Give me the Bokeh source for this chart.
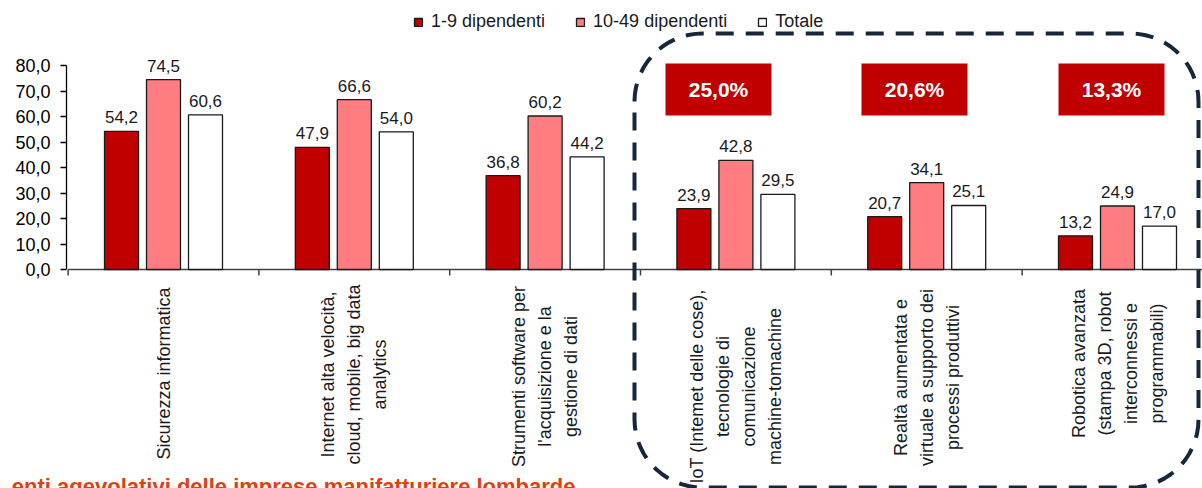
import numpy as np
from bokeh.plotting import figure
from bokeh.models import Range1d, FixedTicker, ColumnDataSource, Legend, LegendItem, Label, LinearAxis
from bokeh.core.properties import value
from bokeh.embed import file_html
from bokeh.resources import INLINE

# ---------------- data ----------------
categories = [
    "Sicurezza informatica",
    "Internet alta velocità,\ncloud, mobile, big data\nanalytics",
    "Strumenti software per\nl'acquisizione e la\ngestione di dati",
    "IoT (Intemet delle cose),\ntecnologie di\ncomunicazione\nmachine-tomachine",
    "Realtà aumentata e\nvirtuale a supporto dei\nprocessi produttivi",
    "Robotica avanzata\n(stampa 3D, robot\ninterconnessi e\nprogrammabili)",
]
series_names = ["1-9 dipendenti", "10-49 dipendenti", "Totale"]
small_firms = [54.2, 47.9, 36.8, 23.9, 20.7, 13.2]
medium_firms = [74.5, 66.6, 60.2, 42.8, 34.1, 24.9]
total = [60.6, 54.0, 44.2, 29.5, 25.1, 17.0]
y_ticks = [0, 10, 20, 30, 40, 50, 60, 70, 80]
y_tick_labels = ["0,0", "10,0", "20,0", "30,0", "40,0", "50,0", "60,0", "70,0", "80,0"]
highlight_labels = ["25,0%", "20,6%", "13,3%"]
footer_text = "enti agevolativi delle imprese manifatturiere lombarde"

# ---------------- layout constants (pixels in the page) ----------------
X0, SX = 67.6, 190.8      # x of the first category boundary, px per category
Y0, SY = 269.0, 2.55      # y of value 0, px per unit
W, H = 1202, 488
FL, FR, FT, FB = 0, W, 0, H   # frame edges in page pixels
AXIS_X = 66                   # where the y axis line sits

def dx(X):
    return (X - X0) / SX

def dy(Y):
    return (Y0 - Y) / SY

FONT_NAME = "Liberation Sans"
FONT = value(FONT_NAME)
DARK = "#1a1a1a"
RED, PINK, WHITE = "#C00000", "#FF7C80", "#FFFFFF"

p = figure(width=W, height=H, output_backend="svg", toolbar_location=None,
           x_range=Range1d(dx(FL), dx(FR)), y_range=Range1d(dy(FB), dy(FT)),
           x_axis_location=None, y_axis_location=None, min_border_left=0,
           min_border_right=0, min_border_top=0, min_border_bottom=0)
p.outline_line_color = None
p.xgrid.visible = False
p.ygrid.visible = False
p.background_fill_color = "white"
p.border_fill_color = "white"

# y axis, drawn at a fixed location inside the frame
ya = LinearAxis(fixed_location=dx(AXIS_X))
ya.ticker = FixedTicker(ticks=y_ticks)
ya.major_label_overrides = {t: l for t, l in zip(y_ticks, y_tick_labels)}
ya.bounds = (0, 80)
ya.minor_tick_line_color = None
ya.major_tick_out = 6
ya.major_tick_in = 0
ya.major_label_standoff = 10
ya.major_label_text_font = FONT_NAME
ya.major_label_text_font_size = "18px"
ya.major_label_text_color = "black"
ya.axis_line_color = "black"
ya.axis_line_width = 1.3
ya.major_tick_line_color = "black"
ya.major_tick_line_width = 1.3
p.add_layout(ya, "left")

n = len(categories)
centers = np.arange(n) + 0.5

# x axis line and boundary ticks
p.segment(x0=[0], y0=[0], x1=[dx(FR + 20)], y1=[0], line_color="#404040", line_width=1.5)
bounds_x = np.arange(n + 1)
p.segment(x0=bounds_x, y0=np.zeros(n + 1), x1=bounds_x, y1=np.full(n + 1, -6 / SY),
          line_color="#404040", line_width=1.5)

# bars
bw = 34 / SX
offsets = [-42 / SX, 0.0, 42 / SX]
colors = [RED, PINK, WHITE]
renderers = []
for vals, off, col in zip([small_firms, medium_firms, total], offsets, colors):
    src = ColumnDataSource(dict(x=centers + off, top=vals,
                                ly=[v + 14 / SY for v in vals],
                                lab=[f"{v:.1f}".replace(".", ",") for v in vals]))
    r = p.vbar(x="x", top="top", bottom=0, width=bw, source=src,
               fill_color=col, line_color=DARK, line_width=1.3)
    renderers.append(r)
    p.text(x="x", y="ly", text="lab", source=src,
           text_align="center", text_baseline="alphabetic",
           text_font=FONT, text_font_size="17px", text_color=DARK)

# category labels (rotated, centered lines)
label_center_y = [373, 374, 376, 386, 377, 363]
p.text(x=centers, y=[dy(Y) for Y in label_center_y], text=categories, angle=np.pi / 2,
       text_align="center", text_baseline="middle", text_line_height=1.3,
       text_font=FONT, text_font_size="18px", text_color=DARK)

# dashed rounded box around the last three categories
L, R, T, B, rad = 634, 1198, 33, 487, 68
pts = []
def arc(cx, cy, a0, a1):
    for a in np.linspace(a0, a1, 16):
        pts.append((cx + rad * np.cos(a), cy - rad * np.sin(a)))
arc(L + rad, T + rad, np.pi, np.pi / 2)
arc(R - rad, T + rad, np.pi / 2, 0)
arc(R - rad, B - rad, 0, -np.pi / 2)
arc(L + rad, B - rad, -np.pi / 2, -np.pi)
pts.append(pts[0])
p.line(x=[dx(a) for a, b in pts], y=[dy(b) for a, b in pts],
       line_color="#17263A", line_width=4, line_dash="18 12")

# highlight boxes
box_cx = [718, 914, 1111]
box_cy = 89
p.rect(x=[dx(c) for c in box_cx], y=[dy(box_cy)] * 3, width=106 / SX, height=52 / SY,
       fill_color=RED, line_color=None)
p.text(x=[dx(c) for c in box_cx], y=[dy(box_cy)] * 3, text=highlight_labels,
       text_align="center", text_baseline="middle", text_font=FONT,
       text_font_size="21px", text_font_style="bold", text_color="white")

# legend
legend = Legend(items=[LegendItem(label=nm, renderers=[r]) for nm, r in zip(series_names, renderers)],
                orientation="horizontal", location=(413 - FL, FB - 32),
                glyph_width=10, glyph_height=10, label_standoff=8, spacing=30,
                padding=0, margin=0, border_line_alpha=0, background_fill_alpha=0,
                label_text_font=FONT_NAME, label_text_font_size="18px", label_text_color=DARK,
                label_height=20)
p.add_layout(legend)

# footer (cut off at the bottom, as in the source)
p.text(x=[dx(575)], y=[dy(486)], text=[footer_text], text_align="right",
       text_baseline="alphabetic", text_font=FONT, text_font_size="22px",
       text_font_style="bold", text_color="#E0400F")

open("out.html", "w").write(file_html(p, INLINE))
